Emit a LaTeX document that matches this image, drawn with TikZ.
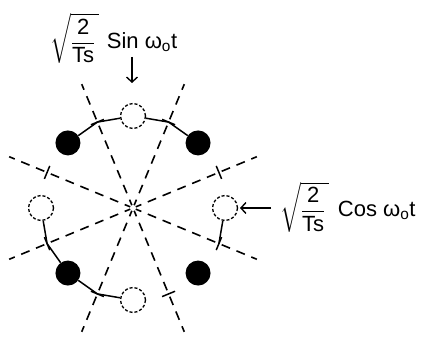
\documentclass[tikz,border=0pt]{standalone}
\usepackage{amsmath}
\usepackage{fontspec}
\setmainfont{Liberation Sans}
\usetikzlibrary{arrows.meta,calc}
\begin{document}
\begin{tikzpicture}[x=1pt,y=1pt,
  bound/.style={line width=1.6pt, dash pattern=on 9pt off 7pt, dash phase=3pt},
  filledpt/.style={circle, fill=black, minimum size=25pt, inner sep=0pt},
  openpt/.style={circle, draw, dash pattern=on 3pt off 2pt, line width=1.3pt, minimum size=25pt, inner sep=0pt},
  conn/.style={line width=1.5pt},
  lbl/.style={font=\fontsize{22}{26}\selectfont, inner sep=0pt},
  arr/.style={-{Straight Barb[length=5pt,width=11pt]}, line width=1.4pt}]
\useasboundingbox (0,0) rectangle (427,339);
\coordinate (c) at (133,131);
% decision boundaries
\foreach \k in {0,...,7}{
  \coordinate (e\k) at ($(c)+(22.5+45*\k:134)$);
  \coordinate (s\k) at ($(c)+(22.5+45*\k:3)$);
  \draw[bound] (s\k) -- (e\k);
}
% signal points
\foreach \k in {0,2,4,6}{
  \node[openpt] (p\k) at ($(c)+(45*\k:92)$) {};
}
\foreach \k in {1,3,5,7}{
  \node[filledpt] (p\k) at ($(c)+(45*\k:92)$) {};
}
% ticks on boundaries
\foreach \k in {0,...,7}{
  \coordinate (b\k) at ($(c)+(22.5+45*\k:93)$);
  \coordinate (bl\k) at ($(b\k)+(112.5+45*\k:7)$);
  \coordinate (br\k) at ($(b\k)+(-67.5+45*\k:7)$);
  \draw[conn] (bl\k) -- (br\k);
}
% connectors
\foreach \p/\b in {3/2,2/2,2/1,1/1,4/4,5/4,5/5,6/5,0/7}{
  \draw[conn] (p\p) -- (b\b);
}
% labels
\node[lbl, anchor=north west] (ts) at (50,326) {$\displaystyle\sqrt{\frac{\text{2}}{\text{Ts}}\,}$\hspace{2pt} Sin ω\textsubscript{o}t};
\coordinate (sa) at (132,282);
\coordinate (sb) at (132,256);
\draw[arr] (sa) -- (sb);
\node[lbl, anchor=west] (tc) at (280,132) {$\displaystyle\sqrt{\frac{\text{2}}{\text{Ts}}\,}$\hspace{3pt} Cos ω\textsubscript{o}t};
\coordinate (ca) at (271,131);
\coordinate (cb) at (240,131);
\draw[arr] (ca) -- (cb);
\end{tikzpicture}
\end{document}
